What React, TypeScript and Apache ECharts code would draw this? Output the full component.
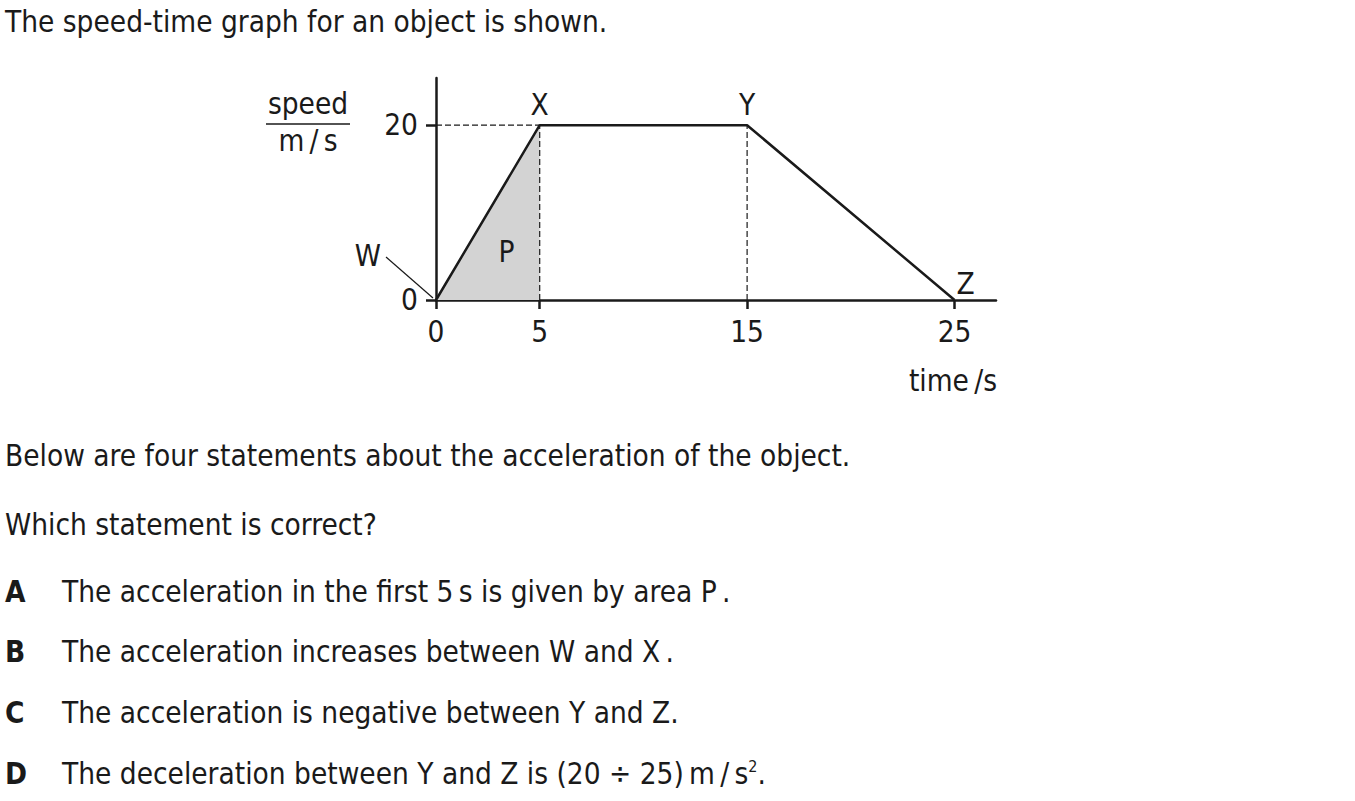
import React, { useEffect, useRef } from "react";
import * as echarts from "echarts";

const graphPoints: [number, number][] = [
  [0, 0],
  [5, 20],
  [15, 20],
  [25, 0],
];
const areaP: [number, number][] = [
  [0, 0],
  [5, 20],
];
const xTickValues = [0, 5, 15, 25];
const yTickValues = [0, 20];
const pointLabels = ["W", "X", "Y", "Z"];
const intro = "The speed-time graph for an object is shown.";
const below = "Below are four statements about the acceleration of the object.";
const question = "Which statement is correct?";
const optionLetters = ["A", "B", "C", "D"];
const optionTexts = [
  "The acceleration in the first 5\u2009s is given by area P\u2009.",
  "The acceleration increases between W and X\u2009.",
  "The acceleration is negative between Y and Z.",
  "The deceleration between Y and Z is (20 \u00f7 25)\u2009m\u2009/\u2009s",
];

const FONT = "'DejaVu Sans Condensed', 'DejaVu Sans', sans-serif";
const INK = "#1a1a1a";
const FS = 29.5;

export default function App() {
  const ref = useRef<HTMLDivElement>(null);
  useEffect(() => {
    document.body.style.margin = "0";
    const chart = echarts.init(ref.current!, null, { renderer: "svg" });
    const xMax = 27;
    const yMax = 25.4;
    const axisLine = { show: true, onZero: false, lineStyle: { color: INK, width: 2.5 } };
    const dash = { color: INK, width: 1.2, type: [6, 3] as any };
    chart.setOption({
      animation: false,
      grid: { left: 436, top: 78, width: 560, height: 222 },
      xAxis: {
        type: "value",
        min: 0,
        max: xMax,
        axisLine: { ...axisLine, symbol: "none" },
        splitLine: { show: false },
        axisTick: {
          show: true,
          customValues: xTickValues,
          length: 9,
          inside: false,
          lineStyle: { color: INK, width: 2.5 },
        },
        axisLabel: {
          customValues: xTickValues,
          margin: 17,
          fontSize: FS,
          fontFamily: FONT,
          color: INK,
        },
      },
      yAxis: {
        type: "value",
        min: 0,
        max: yMax,
        axisLine,
        splitLine: { show: false },
        axisTick: {
          show: true,
          customValues: yTickValues,
          length: 10,
          lineStyle: { color: INK, width: 2.5 },
        },
        axisLabel: {
          customValues: yTickValues,
          margin: 18,
          fontSize: FS,
          fontFamily: FONT,
          color: INK,
        },
      },
      series: [
        {
          type: "line",
          data: areaP,
          symbol: "none",
          lineStyle: { width: 0 },
          areaStyle: { color: "#d3d3d3", opacity: 1, origin: "start" },
          z: 1,
        },
        {
          type: "line",
          data: [
            [0, 20],
            [5, 20],
          ],
          symbol: "none",
          lineStyle: dash,
          z: 2,
        },
        {
          type: "line",
          data: [
            [5, 0],
            [5, 20],
          ],
          symbol: "none",
          lineStyle: dash,
          z: 2,
        },
        {
          type: "line",
          data: [
            [15, 0],
            [15, 20],
          ],
          symbol: "none",
          lineStyle: dash,
          z: 2,
        },
        {
          type: "line",
          data: graphPoints,
          symbol: "none",
          lineStyle: { color: INK, width: 2.5 },
          z: 3,
        },
      ],
    });

    const px = (p: [number, number]) => chart.convertToPixel({ gridIndex: 0 }, p) as number[];
    const w = px(graphPoints[0]);
    const x = px(graphPoints[1]);
    const y = px(graphPoints[2]);
    const z = px(graphPoints[3]);
    const pLbl = px([3.4, 5.5]);
    const txt = (left: number, top: number, text: string, extra: any = {}) => ({
      type: "text",
      x: left,
      y: top,
      z: 100,
      style: {
        text,
        fontSize: FS,
        fontFamily: FONT,
        fill: INK,
        textVerticalAlign: "middle",
        ...extra,
      },
    });
    const graphic: any[] = [
      txt(x[0], x[1] - 20, pointLabels[1], { textAlign: "center" }),
      txt(y[0], y[1] - 20, pointLabels[2], { textAlign: "center" }),
      txt(z[0] + 11, z[1] - 16, pointLabels[3], { textAlign: "center" }),
      txt(pLbl[0], pLbl[1], "P", { textAlign: "center" }),
      txt(w[0] - 55, w[1] - 44, pointLabels[0], { textAlign: "right" }),
      {
        type: "line",
        z: 100,
        shape: { x1: w[0] - 50, y1: w[1] - 43, x2: w[0] - 3, y2: w[1] - 2 },
        style: { stroke: INK, lineWidth: 1.2 },
      },
      txt(308, 104, "speed", { textAlign: "center" }),
      {
        type: "line",
        z: 100,
        shape: { x1: 266, y1: 124, x2: 350, y2: 124 },
        style: { stroke: INK, lineWidth: 1.5 },
      },
      txt(308, 141, "m\u2009/\u2009s", { textAlign: "center" }),
      txt(997, 381, "time\u2009/s", { textAlign: "right" }),
      txt(5, 22, intro),
      txt(5, 456, below),
      txt(5, 525, question),
    ];
    const rowY = [592, 652, 713, 774];
    optionLetters.forEach((l, i) => {
      graphic.push(txt(5, rowY[i], l, { fontWeight: "bold" }));
      if (i < 3) {
        graphic.push(txt(62, rowY[i], optionTexts[i]));
      } else {
        graphic.push({
          type: "text",
          x: 62,
          y: rowY[i],
          z: 100,
          style: {
            text: "{n|" + optionTexts[i] + "}{s|2}{n|.}",
            fontFamily: FONT,
            fontSize: FS,
            fill: INK,
            textVerticalAlign: "middle",
            rich: {
              n: { fontSize: FS, fontFamily: FONT, fill: INK, color: INK },
              s: {
                fontSize: 16,
                fontFamily: FONT,
                fill: INK,
                color: INK,
                verticalAlign: "top",
                padding: [0, 0, 15, 0],
              },
            },
          },
        });
      }
    });
    chart.setOption({ graphic });
    return () => chart.dispose();
  }, []);
  return (
    <div
      ref={ref}
      style={{ position: "absolute", left: 0, top: 0, width: 1355, height: 801, background: "#fff" }}
    />
  );
}
